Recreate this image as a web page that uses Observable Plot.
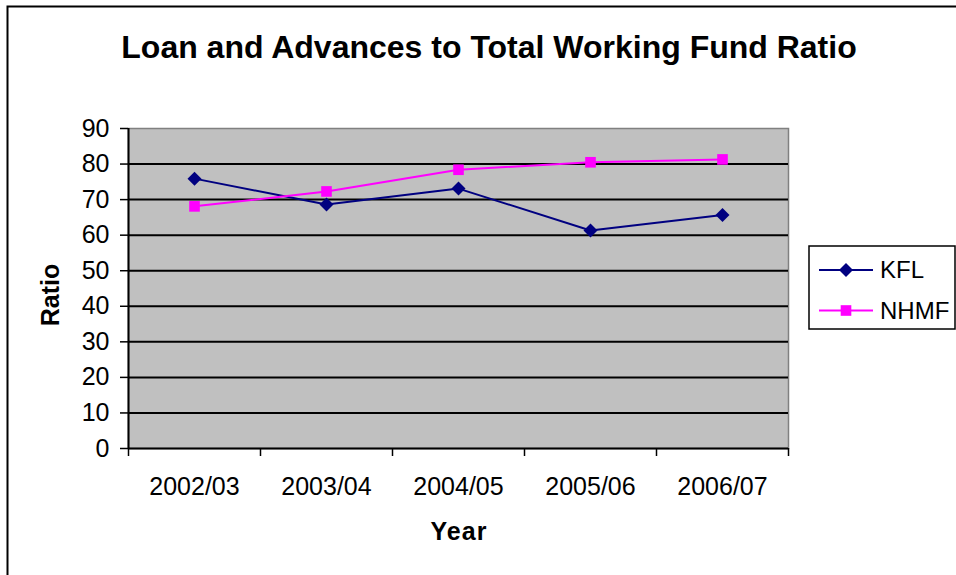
<!DOCTYPE html>
<html>
<head>
<meta charset="utf-8">
<script src="https://cdn.jsdelivr.net/npm/d3@7"></script>
<script src="https://cdn.jsdelivr.net/npm/@observablehq/plot@0.6"></script>
<style>
  html, body { margin: 0; padding: 0; background: #fff; }
  svg { display: block; }
</style>
</head>
<body>
<div id="chart"></div>
<script>
const years = ["2002/03", "2003/04", "2004/05", "2005/06", "2006/07"];
const kfl = [75.9, 68.6, 73.1, 61.3, 65.7];
const nhmf = [68.1, 72.3, 78.4, 80.5, 81.3];
const seriesNames = ["KFL", "NHMF"];
const seriesColors = ["#000080", "#ff00ff"];
const yTicks = [0, 10, 20, 30, 40, 50, 60, 70, 80, 90];
const titleText = "Loan and Advances to Total Working Fund Ratio";
const xLabel = "Year";
const yLabel = "Ratio";

const data = [];
years.forEach((y, i) => {
  data.push({series: "KFL", idx: i + 0.5, year: y, value: kfl[i]});
  data.push({series: "NHMF", idx: i + 0.5, year: y, value: nhmf[i]});
});

const font = "'Liberation Sans', Arial, sans-serif";

const plot = Plot.plot({
  width: 956,
  height: 575,
  marginLeft: 128,
  marginRight: 168,
  marginTop: 128,
  marginBottom: 127,
  style: {fontFamily: font, fontSize: "25px", color: "#000", background: "transparent", overflow: "visible"},
  x: {type: "linear", domain: [0, years.length]},
  y: {domain: [0, 90]},
  color: {domain: seriesNames, range: seriesColors},
  symbol: {domain: seriesNames, range: ["diamond2", "square"]},
  marks: [
    Plot.frame({fill: "#c0c0c0", stroke: "#808080", strokeWidth: 1.5}),
    Plot.gridY(yTicks.filter(t => t > 0 && t < 90), {stroke: "#000", strokeOpacity: 1, strokeWidth: 2}),
    Plot.axisY({ticks: yTicks, tickSize: 8, tickPadding: 11, label: null, stroke: "#000", strokeWidth: 1.5, fontSize: 25}),
    Plot.axisX({ticks: d3.range(0, years.length + 1), tickSize: 8, tickFormat: () => "", label: null, strokeWidth: 1.5}),
    Plot.axisX({ticks: years.map((_, i) => i + 0.5), tickSize: 0, tickPadding: 29, tickFormat: d => years[Math.floor(d)], label: null, fontSize: 25}),
    Plot.ruleY([0], {stroke: "#000", strokeWidth: 2}),
    Plot.ruleX([0], {stroke: "#000", strokeWidth: 2}),
    Plot.line(data, {x: "idx", y: "value", z: "series", stroke: "series", strokeWidth: 2}),
    Plot.dot(data.filter(d => d.series === "KFL"), {x: "idx", y: "value", symbol: "series", fill: "series", stroke: null, r: 6.3}),
    Plot.dot(data.filter(d => d.series === "NHMF"), {x: "idx", y: "value", symbol: "series", fill: "series", stroke: null, r: 6})
  ]
});

document.getElementById("chart").appendChild(plot);

const svg = d3.select(plot);

// outer chart border
svg.insert("rect", ":first-child")
  .attr("x", 7.5).attr("y", 6.5).attr("width", 1000).attr("height", 1000)
  .attr("fill", "none").attr("stroke", "#000").attr("stroke-width", 2);

// title
svg.append("text")
  .attr("x", 489).attr("y", 58)
  .attr("text-anchor", "middle")
  .attr("font-family", font).attr("font-weight", "bold").attr("font-size", 32)
  .attr("fill", "#000")
  .text(titleText);

// axis labels
svg.append("text")
  .attr("x", 459).attr("y", 540)
  .attr("text-anchor", "middle")
  .attr("font-family", font).attr("font-weight", "bold").attr("font-size", 25)
  .attr("letter-spacing", 1)
  .text(xLabel);

svg.append("text")
  .attr("transform", "translate(59,295) rotate(-90)")
  .attr("text-anchor", "middle")
  .attr("font-family", font).attr("font-weight", "bold").attr("font-size", 25)
  .text(yLabel);

// legend
const lg = svg.append("g");
lg.append("rect")
  .attr("x", 809).attr("y", 246).attr("width", 146).attr("height", 83)
  .attr("fill", "#fff").attr("stroke", "#000").attr("stroke-width", 1.5);
const legendSymbols = [d3.symbolDiamond2, d3.symbolSquare];
const legendR = [6.3, 6];
seriesNames.forEach((name, i) => {
  const cy = 270 + i * 40.5;
  lg.append("line")
    .attr("x1", 819).attr("x2", 873).attr("y1", cy).attr("y2", cy)
    .attr("stroke", seriesColors[i]).attr("stroke-width", 2);
  lg.append("path")
    .attr("transform", `translate(846,${cy})`)
    .attr("d", d3.symbol(legendSymbols[i], Math.PI * legendR[i] * legendR[i])())
    .attr("fill", seriesColors[i]);
  lg.append("text")
    .attr("x", 880).attr("y", cy + 8)
    .attr("text-anchor", "start")
    .attr("font-family", font).attr("font-size", 24)
    .attr("fill", "#000")
    .text(name);
});
</script>
</body>
</html>
